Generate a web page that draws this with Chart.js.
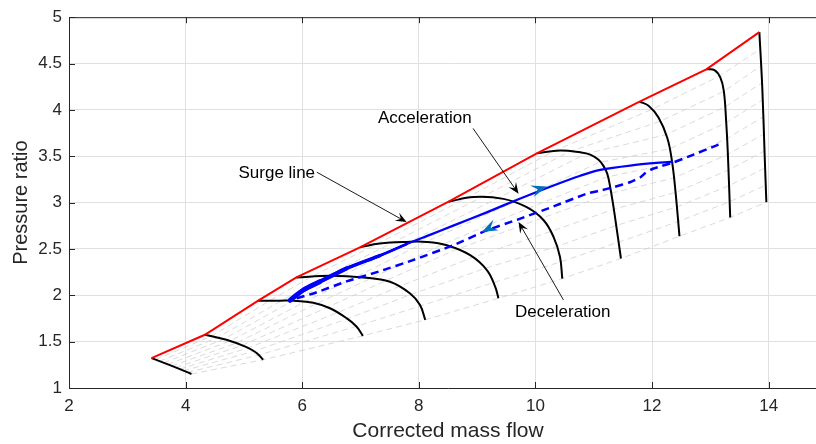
<!DOCTYPE html>
<html><head><meta charset="utf-8">
<script src="https://cdn.jsdelivr.net/npm/chart.js@4.4.1/dist/chart.umd.min.js"></script>
<style>html,body{margin:0;padding:0;background:#fff;overflow:hidden;width:816px;height:444px}#wrap{width:816px;height:444px;position:relative;overflow:hidden}</style>
</head><body><div id="wrap"><canvas id="c" width="827" height="444"></canvas></div>
<script>
// ---- data ----
const xTicks = [2, 4, 6, 8, 10, 12, 14];
const yTicks = [1, 1.5, 2, 2.5, 3, 3.5, 4, 4.5, 5];

// speed lines (black curves), first point of each lies on the surge line
const speedX = [
  [3.415, 3.785, 4.10],
  [4.33, 4.70, 5.045, 5.217, 5.33],
  [5.245, 5.617, 5.846, 6.19, 6.476, 6.76, 6.93, 7.04],
  [5.90, 6.476, 7.05, 7.505, 7.85, 8.02, 8.11],
  [6.99, 7.33, 7.79, 8.14, 8.48, 8.88, 9.17, 9.31, 9.365],
  [8.51, 8.94, 9.45, 9.85, 10.14, 10.31, 10.42, 10.46],
  [10.024, 10.424, 10.767, 10.939, 11.077, 11.163, 11.231, 11.282, 11.339, 11.397, 11.466],
  [11.785, 11.94, 12.11, 12.26, 12.34, 12.40, 12.47],
  [12.93, 13.07, 13.17, 13.23, 13.27, 13.30, 13.34],
  [13.84, 13.89, 13.93, 13.96]
];
const speedY = [
  [1.323, 1.233, 1.151],
  [1.574, 1.52, 1.441, 1.377, 1.305],
  [1.942, 1.942, 1.942, 1.92, 1.86, 1.753, 1.663, 1.563],
  [2.193, 2.21, 2.193, 2.146, 2.02, 1.896, 1.735],
  [2.518, 2.558, 2.576, 2.576, 2.54, 2.433, 2.27, 2.09, 1.968],
  [3.01, 3.06, 3.04, 2.95, 2.81, 2.63, 2.415, 2.18],
  [3.532, 3.561, 3.542, 3.518, 3.464, 3.399, 3.313, 3.166, 2.951, 2.701, 2.397],
  [4.09, 4.044, 3.918, 3.70, 3.453, 3.13, 2.637],
  [4.438, 4.43, 4.35, 4.205, 3.883, 3.525, 2.84],
  [4.839, 4.24, 3.525, 3.005]
];

// beta grid points on each speed line (gray dashed lines join the same index)
const betaX = [
  [3.48, 3.55, 3.62, 3.69, 3.76, 3.83, 3.895, 3.96, 4.03, 4.10],
  [4.44, 4.545, 4.653, 4.76, 4.863, 4.968, 5.07, 5.165, 5.252, 5.33],
  [5.444, 5.644, 5.844, 6.043, 6.24, 6.43, 6.604, 6.773, 6.926, 7.04],
  [6.154, 6.409, 6.663, 6.918, 7.172, 7.42, 7.652, 7.866, 8.026, 8.11],
  [7.267, 7.55, 7.834, 8.121, 8.402, 8.647, 8.922, 9.134, 9.274, 9.365],
  [8.786, 9.065, 9.345, 9.616, 9.876, 10.098, 10.256, 10.363, 10.43, 10.46],
  [10.304, 10.587, 10.867, 11.09, 11.216, 11.288, 11.337, 11.384, 11.428, 11.466],
  [11.993, 12.139, 12.238, 12.30, 12.346, 12.375, 12.403, 12.425, 12.448, 12.47],
  [13.152, 13.23, 13.251, 13.272, 13.286, 13.30, 13.31, 13.32, 13.33, 13.34],
  [13.852, 13.864, 13.876, 13.888, 13.90, 13.912, 13.924, 13.936, 13.948, 13.96]
];
const betaY = [
  [1.306, 1.289, 1.271, 1.254, 1.237, 1.220, 1.203, 1.185, 1.168, 1.151],
  [1.558, 1.543, 1.527, 1.506, 1.483, 1.459, 1.432, 1.396, 1.355, 1.305],
  [1.942, 1.942, 1.942, 1.929, 1.91, 1.87, 1.812, 1.746, 1.665, 1.563],
  [2.20, 2.208, 2.204, 2.197, 2.18, 2.155, 2.092, 2.009, 1.885, 1.735],
  [2.548, 2.567, 2.576, 2.576, 2.548, 2.495, 2.409, 2.29, 2.136, 1.968],
  [3.04, 3.055, 3.044, 3.003, 2.938, 2.83, 2.687, 2.526, 2.36, 2.18],
  [3.552, 3.551, 3.527, 3.433, 3.275, 3.10, 2.927, 2.753, 2.574, 2.397],
  [4.005, 3.877, 3.732, 3.579, 3.423, 3.266, 3.11, 2.953, 2.795, 2.637],
  [4.364, 4.20, 4.033, 3.863, 3.692, 3.52, 3.351, 3.183, 3.01, 2.84],
  [4.656, 4.472, 4.289, 4.105, 3.922, 3.739, 3.555, 3.372, 3.188, 3.005]
];

// operating trajectory
const accelX = [5.79, 6.02, 6.30, 6.76, 7.33, 7.79, 8.19, 8.59, 9.165, 9.74, 10.31, 10.77, 11.11, 11.625, 12.36];
const accelY = [1.946, 2.057, 2.146, 2.29, 2.428, 2.553, 2.652, 2.752, 2.895, 3.044, 3.185, 3.29, 3.353, 3.40, 3.443];
const decelX = [13.14, 12.6, 12.36, 12.14, 11.97, 11.88, 11.80, 11.62, 11.34, 11.11, 10.88, 10.31, 9.74, 9.165, 8.59, 7.90, 7.33, 6.76, 6.19, 5.80];
const decelY = [3.625, 3.49, 3.432, 3.39, 3.353, 3.317, 3.274, 3.22, 3.167, 3.13, 3.096, 2.959, 2.827, 2.70, 2.54, 2.38, 2.26, 2.15, 2.02, 1.95];
// widths of the dense start of the acceleration path: [points used, line width]
const accelBand = [[6, 2.8], [5, 3.4], [4, 4.1], [3, 4.8]];

// direction arrow heads on the trajectory: [backX, backY, tipX, tipY]
const flowArrows = [
  [9.94, 3.124, 10.20, 3.174],
  [9.31, 2.755, 9.08, 2.683]
];

// text annotations: label, text x, text y, align, arrow tail x/y, arrow tip x/y
const notes = [
  { text: 'Surge line',   tx: 6.22, ty: 3.317, align: 'right', ax: 6.25,  ay: 3.328, bx: 7.79, by: 2.79 },
  { text: 'Acceleration', tx: 7.30, ty: 3.912, align: 'left',  ax: 8.93,  ay: 3.80,  bx: 9.71, by: 3.096 },
  { text: 'Deceleration', tx: 9.65, ty: 1.813, align: 'left',  ax: 10.48, ay: 1.95,  bx: 9.71, by: 2.79 }
];

// ---- chart ----
const FONT = '"Liberation Sans", Arial, Helvetica, sans-serif';
const AXC = '#262626';
const pts = (xs, ys) => xs.map((x, i) => ({ x: x, y: ys[i] }));

const datasets = [];
for (let j = 0; j < betaX[0].length; j++) {
  datasets.push({
    data: betaX.map((row, k) => ({ x: row[j], y: betaY[k][j] })),
    showLine: true, borderColor: '#d0d0d0', borderWidth: 0.8, borderDash: [6, 4],
    pointRadius: 0, tension: 0, order: 10
  });
}
speedX.forEach((xs, k) => {
  datasets.push({
    data: pts(xs, speedY[k]), showLine: true, borderColor: '#000000', borderWidth: 2,
    pointRadius: 0, tension: 0.4, order: 8
  });
});
datasets.push({
  data: pts(speedX.map(s => s[0]), speedY.map(s => s[0])),
  showLine: true, borderColor: '#ff0000', borderWidth: 2, pointRadius: 0, tension: 0, order: 6
});
datasets.push({
  data: pts(decelX, decelY), showLine: true, borderColor: '#0000ff', borderWidth: 2.5,
  borderDash: [8, 5], pointRadius: 0, tension: 0.2, order: 4
});
datasets.push({
  data: pts(accelX, accelY), showLine: true, borderColor: '#0000ff', borderWidth: 2.3,
  pointRadius: 0, tension: 0.3, order: 3
});
accelBand.forEach(b => {
  datasets.push({
    data: pts(accelX.slice(0, b[0]), accelY.slice(0, b[0])), showLine: true, borderColor: '#0000ff',
    borderWidth: b[1], borderCapStyle: 'round', pointRadius: 0, tension: 0.3, order: 2
  });
});

function head(ctx, bx, by, tx, ty, len, wid, notch, color) {
  const a = Math.atan2(ty - by, tx - bx);
  ctx.save();
  ctx.translate(tx, ty); ctx.rotate(a);
  ctx.beginPath();
  ctx.moveTo(0, 0);
  ctx.lineTo(-len, -wid / 2);
  ctx.lineTo(-len * notch, 0);
  ctx.lineTo(-len, wid / 2);
  ctx.closePath();
  ctx.fillStyle = color; ctx.fill();
  ctx.restore();
}

const framePlugin = {
  id: 'frame',
  beforeDatasetsDraw(chart) {
    const { ctx, chartArea: ca, scales: { x, y } } = chart;
    ctx.save();
    ctx.strokeStyle = AXC; ctx.lineWidth = 1;
    ctx.beginPath();
    ctx.moveTo(ca.left, ca.top + 0.5); ctx.lineTo(ca.right, ca.top + 0.5);
    ctx.moveTo(ca.right - 0.5, ca.top); ctx.lineTo(ca.right - 0.5, ca.bottom);
    const tl = 6;
    xTicks.forEach(v => {
      const px = Math.round(x.getPixelForValue(v)) + 0.5;
      ctx.moveTo(px, ca.bottom); ctx.lineTo(px, ca.bottom - tl);
      ctx.moveTo(px, ca.top); ctx.lineTo(px, ca.top + tl);
    });
    yTicks.forEach(v => {
      const py = Math.round(y.getPixelForValue(v)) + 0.5;
      ctx.moveTo(ca.left, py); ctx.lineTo(ca.left + tl, py);
    });
    ctx.stroke();
    ctx.restore();
  },
  afterDatasetsDraw(chart) {
    const { ctx, scales: { x, y } } = chart;
    flowArrows.forEach(f => {
      head(ctx, x.getPixelForValue(f[0]), y.getPixelForValue(f[1]),
        x.getPixelForValue(f[2]), y.getPixelForValue(f[3]), 16, 12, 0.62, '#0072BD');
    });
    ctx.save();
    notes.forEach(n => {
      const ax = x.getPixelForValue(n.ax), ay = y.getPixelForValue(n.ay);
      const bx = x.getPixelForValue(n.bx), by = y.getPixelForValue(n.by);
      const d = Math.hypot(bx - ax, by - ay);
      const ex = bx - (bx - ax) / d * 6, ey = by - (by - ay) / d * 6;
      ctx.strokeStyle = '#000'; ctx.lineWidth = 0.9;
      ctx.beginPath(); ctx.moveTo(ax, ay); ctx.lineTo(ex, ey); ctx.stroke();
      head(ctx, ax, ay, bx, by, 11, 9, 0.6, '#000');
      ctx.fillStyle = '#000';
      ctx.font = '17px ' + FONT;
      ctx.textAlign = n.align; ctx.textBaseline = 'middle';
      ctx.fillText(n.text, x.getPixelForValue(n.tx), y.getPixelForValue(n.ty));
    });
    ctx.restore();
  }
};

const fmt = v => String(Math.round(v * 100) / 100);

new Chart(document.getElementById('c'), {
  type: 'scatter',
  data: { datasets: datasets },
  plugins: [framePlugin],
  options: {
    responsive: false, animation: false, devicePixelRatio: 1,
    layout: { padding: { top: 16, right: 0, left: 0, bottom: 0 } },
    plugins: { legend: { display: false }, tooltip: { enabled: false } },
    scales: {
      x: {
        type: 'linear', min: 2, max: 15,
        afterBuildTicks: s => { s.ticks = xTicks.map(v => ({ value: v })); },
        afterFit: s => { s.height = 56; },
        grid: { color: '#e0e0e0', lineWidth: 1, drawTicks: false },
        border: { display: true, color: AXC, width: 1 },
        ticks: { font: { family: FONT, size: 17 }, color: AXC, padding: 8, maxRotation: 0, autoSkip: false, callback: fmt },
        title: { display: true, text: 'Corrected mass flow', color: AXC, font: { family: FONT, size: 21 }, padding: { top: 0, bottom: 0 } }
      },
      y: {
        type: 'linear', min: 1, max: 5,
        afterBuildTicks: s => { s.ticks = yTicks.map(v => ({ value: v })); },
        afterFit: s => { s.width = 69; },
        grid: { color: '#e0e0e0', lineWidth: 1, drawTicks: false },
        border: { display: true, color: AXC, width: 1 },
        ticks: { font: { family: FONT, size: 17 }, color: AXC, padding: 7, autoSkip: false, callback: fmt },
        title: { display: true, text: 'Pressure ratio', color: AXC, font: { family: FONT, size: 20 }, padding: { top: 9, bottom: 0 } }
      }
    }
  }
});
</script>
</body></html>
